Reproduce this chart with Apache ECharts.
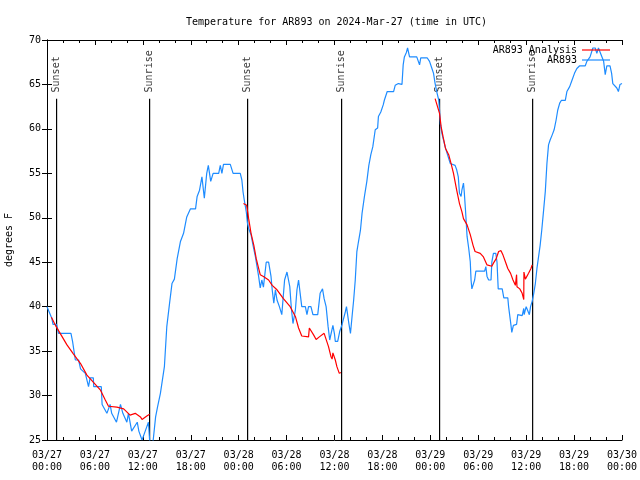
<!DOCTYPE html>
<html><head><meta charset="utf-8">
<script src="https://cdn.jsdelivr.net/npm/echarts@6/dist/echarts.min.js"></script>
<style>html,body{margin:0;padding:0;background:#fff}#c{width:640px;height:480px}</style>
</head><body><div id="c"></div>
<script>
var FONT = '"DejaVu Sans Mono", "Liberation Mono", monospace';
var titleText = 'Temperature for AR893 on 2024-Mar-27 (time in UTC)';
var xTickLabels = ['03/27\n00:00','03/27\n06:00','03/27\n12:00','03/27\n18:00','03/28\n00:00','03/28\n06:00','03/28\n12:00','03/28\n18:00','03/29\n00:00','03/29\n06:00','03/29\n12:00','03/29\n18:00','03/30\n00:00'];
// hours since 03/27 00:00 UTC
var obsHours = [0,0.6,0.75,1.2,1.45,3.0,3.2,3.55,3.96,4.2,4.8,5.2,5.4,5.8,5.85,6.8,6.9,7.5,7.9,8.1,8.7,9.2,9.5,10.0,10.2,10.6,11.3,11.5,11.9,12.3,12.7,12.85,13.0,13.3,13.6,13.85,14.2,14.7,15.0,15.35,15.65,15.95,16.3,16.7,17.1,17.5,17.95,18.6,18.8,19.1,19.4,19.7,20.0,20.2,20.5,20.8,21.5,21.7,21.9,22.1,22.95,23.3,24.2,24.4,24.55,24.7,24.95,25.1,25.25,25.55,25.8,26.1,26.3,26.5,26.7,26.9,27.1,27.45,27.75,28.05,28.2,28.4,28.6,28.8,29.1,29.4,29.75,30.05,30.4,30.6,30.8,31.1,31.3,31.5,31.7,31.9,32.35,32.55,32.75,33.05,33.3,33.9,34.2,34.5,34.7,34.95,35.2,35.4,35.55,35.8,36.0,36.1,36.4,36.65,36.95,37.15,37.35,37.5,37.65,37.8,38.0,38.2,38.4,38.6,38.8,39.0,39.25,39.45,39.75,40.05,40.3,40.55,40.8,41.1,41.4,41.5,41.8,42.1,42.25,42.6,43.4,43.6,44.0,44.45,44.6,44.75,45.0,45.15,45.4,46.3,46.65,46.8,47.6,47.9,48.2,48.4,48.6,48.85,49.05,49.15,49.25,49.45,49.65,49.85,50.15,50.5,51.1,51.3,51.5,51.65,51.85,51.95,52.15,52.25,52.4,52.6,52.8,53.0,53.1,53.2,53.4,53.55,53.7,54.8,54.95,55.1,55.3,55.6,55.7,55.9,56.2,56.35,56.5,57.0,57.2,57.7,57.8,58.0,58.1,58.2,58.4,58.8,58.95,59.5,59.7,59.75,60.0,60.2,60.4,60.55,60.75,60.95,61.15,61.35,61.55,61.75,61.95,62.2,62.4,62.6,62.8,63.0,63.25,63.5,63.75,63.95,64.2,64.4,64.9,65.1,65.45,65.75,66.05,66.35,66.7,67.4,67.6,68.0,68.35,68.65,68.85,69.05,69.25,69.7,69.9,70.1,70.5,70.7,70.85,71.1,71.35,71.55,71.75,72.0];
var obsTemp = [40.0,38.7,38.0,38.0,37.0,37.0,36.1,34.0,34.0,33.0,32.5,31.0,32.0,32.0,31.0,31.0,29.0,28.0,29.0,28.0,27.0,29.0,28.0,27.0,28.0,26.0,27.0,26.0,25.0,26.0,27.0,25.0,24.0,25.0,27.6,28.75,30.25,33.25,37.75,40.4,42.6,43.1,45.4,47.3,48.25,50.1,51.0,51.0,52.4,53.1,54.6,52.2,55.0,55.9,54.1,55.0,55.0,55.9,55.0,56.0,56.0,55.0,55.0,54.25,52.9,52.0,50.7,49.4,48.8,48.1,46.9,45.6,44.5,43.4,42.1,43.0,42.2,45.0,45.0,43.4,41.9,40.4,41.9,40.75,40.0,39.1,43.0,43.9,42.25,39.8,38.1,39.6,41.9,43.0,41.5,40.0,40.0,39.1,40.0,40.0,39.1,39.1,41.5,42.0,40.9,40.0,37.75,36.25,36.1,37.9,36.9,36.1,36.1,37.2,38.0,38.0,39.4,40.0,40.0,38.1,37.0,38.9,40.75,43.0,46.2,47.3,48.6,50.5,52.4,54.1,55.9,57.1,58.0,59.9,60.1,61.4,61.9,62.7,63.25,64.2,64.2,64.9,65.1,65.0,67.2,68.1,68.6,69.1,68.1,68.1,67.2,68.0,68.0,67.6,66.8,66.25,65.1,64.0,63.25,62.1,60.6,59.5,58.75,58.0,57.1,56.1,55.9,55.4,54.6,52.75,52.4,53.1,53.9,52.9,50.9,47.9,46.6,45.05,43.0,42.0,42.0,43.0,44.0,44.0,44.5,43.4,43.0,43.0,45.0,46.0,46.0,45.0,42.0,42.0,41.0,41.0,40.0,40.0,37.9,37.1,37.9,38.0,39.1,39.0,39.8,39.1,40.0,40.0,39.1,40.0,40.6,41.5,42.6,44.3,45.6,46.9,48.6,51.0,53.0,56.1,58.2,58.75,59.3,59.9,61.0,62.1,62.9,63.2,63.2,64.2,64.75,65.5,66.25,66.8,67.1,67.1,67.6,68.1,69.1,69.1,68.5,69.1,69.0,67.6,66.1,67.1,67.1,66.25,65.1,65.1,64.6,64.2,65.0,65.1];
var anaHours = [0.55,1.15,1.65,2.5,3.3,4.2,5.0,5.85,6.7,7.3,7.7,8.75,9.6,10.4,11.05,11.7,11.9,12.5,12.85,13.0,24.6,25.0,25.25,25.55,25.9,26.2,26.5,26.7,27.1,27.75,28.2,28.8,29.6,30.45,31.1,31.5,31.9,32.75,32.85,33.4,33.7,34.1,34.7,34.95,35.25,35.55,35.7,35.8,36.1,36.3,36.6,36.8,37.0,48.6,48.8,49.15,49.35,49.6,49.9,50.3,50.6,50.9,51.3,51.65,51.95,52.15,52.6,53.0,53.35,53.6,53.8,54.25,54.65,54.9,55.1,55.3,55.7,55.9,56.25,56.55,56.85,57.1,57.4,57.7,58.05,58.35,58.65,58.8,58.85,59.2,59.5,59.7,59.72,59.9,60.3,60.6,60.75];
var anaTemp = [38.8,37.75,37.0,35.7,34.7,33.6,32.3,31.45,30.6,29.5,28.8,28.7,28.5,27.8,28.0,27.6,27.3,27.7,27.9,null,51.6,51.4,49.9,48.25,46.9,45.4,44.3,43.6,43.4,43.0,42.4,41.9,40.9,40.0,38.9,37.6,36.7,36.6,37.6,36.8,36.3,36.6,37.0,36.9,35.5,34.4,34.1,34.8,34.0,33.25,32.5,32.6,null,63.4,63.25,61.75,60.25,59.1,57.8,57.1,56.1,55.0,53.1,51.6,50.7,49.9,49.2,48.1,46.9,46.2,46.4,46.0,45.6,45.4,44.7,44.55,44.55,44.9,45.4,46.2,46.3,45.8,45.05,44.3,43.75,43.0,42.4,43.6,42.25,42.0,41.5,40.8,43.9,43.1,43.75,44.3,44.7];
var sunHours = [1.2,12.85,25.12,36.89,49.16,60.81];
var sunNames = ['Sunset','Sunrise','Sunset','Sunrise','Sunset','Sunrise'];
var sunLineTop = 63.4, sunLabelAt = 64.1, yMin = 25, yMax = 70;

function pairs(xs, ys){ return xs.map(function(x,i){ return [x, ys[i]]; }); }
var sunLineData = [];
sunHours.forEach(function(h){ sunLineData.push([h,yMin],[h,sunLineTop],[h,null]); });
var sunLabelData = sunHours.map(function(h,i){ return {value:[h,sunLabelAt], name: sunNames[i]}; });

var LINE_ICON = 'path://M0,0 L280,0 L280,12 L0,12 Z';
var chart = echarts.init(document.getElementById('c'), null, {renderer:'canvas'});
var axisTxt = {fontFamily: FONT, fontSize: 10, color: '#000'};
chart.setOption({
  animation: false,
  backgroundColor: '#fff',
  title: {text: titleText, left: 181, top: 12, textStyle: {fontFamily: FONT, fontSize: 10, fontWeight: 'normal', color: '#000'}},
  grid: {left: 47, right: 18, top: 40, bottom: 40, containLabel: false, outerBoundsMode: 'none'},
  legend: {
    data: [{name: 'AR893 Analysis', icon: LINE_ICON}, {name: 'AR893', icon: LINE_ICON}],
    orient: 'vertical', right: 30, top: 45, align: 'right',
    itemWidth: 28, itemHeight: 12, itemGap: 0, padding: 0, symbolKeepAspect: true,
    textStyle: {fontFamily: FONT, fontSize: 10, color: '#000'}
  },
  xAxis: [{
    type: 'value', min: 0, max: 72, interval: 6,
    axisLine: {show: true, lineStyle: {color: '#000', width: 1}},
    axisTick: {show: true, inside: true, length: 5, lineStyle: {color: '#000'}},
    minorTick: {show: true, splitNumber: 3, length: 3, lineStyle: {color: '#000'}},
    splitLine: {show: false},
    axisLabel: Object.assign({margin: 9, lineHeight: 12, showMinLabel: true, showMaxLabel: true,
      formatter: function(v){ return xTickLabels[Math.round(v/6)]; }}, axisTxt)
  },{
    type: 'value', position: 'top', min: 0, max: 72, interval: 6,
    axisLine: {show: true, lineStyle: {color: '#000', width: 1}},
    axisTick: {show: true, inside: true, length: 5, lineStyle: {color: '#000'}},
    minorTick: {show: true, splitNumber: 3, length: 3, lineStyle: {color: '#000'}},
    splitLine: {show: false}, axisLabel: {show: false}
  }],
  yAxis: [{
    type: 'value', min: yMin, max: yMax, interval: 5,
    name: 'degrees F', nameLocation: 'middle', nameGap: 33,
    nameTextStyle: {fontFamily: FONT, fontSize: 10, color: '#000'},
    axisLine: {show: true, lineStyle: {color: '#000', width: 1}},
    axisTick: {show: true, inside: true, length: 5, lineStyle: {color: '#000'}},
    splitLine: {show: false},
    axisLabel: Object.assign({margin: 6}, axisTxt)
  },{
    type: 'value', position: 'right', min: yMin, max: yMax, interval: 5,
    axisLine: {show: true, lineStyle: {color: '#000', width: 1}},
    axisTick: {show: true, inside: true, length: 5, lineStyle: {color: '#000'}},
    splitLine: {show: false}, axisLabel: {show: false}
  }],
  series: [
    {name: 'sun', type: 'line', data: sunLineData, symbol: 'none', silent: true,
     lineStyle: {color: '#000', width: 1.2}, connectNulls: false, z: 1},
    {name: 'sunLabels', type: 'scatter', data: sunLabelData, symbolSize: 0, silent: true, z: 1,
     label: {show: true, position: 'inside', rotate: 90, align: 'left', verticalAlign: 'middle',
       formatter: function(p){ return p.name; }, fontFamily: FONT, fontSize: 10, color: '#000'}},
    {name: 'AR893', type: 'line', data: pairs(obsHours, obsTemp), symbol: 'none', clip: true,
     lineStyle: {color: '#1e8cff', width: 1.2}, itemStyle: {color: '#1e8cff'}, z: 2},
    {name: 'AR893 Analysis', type: 'line', data: pairs(anaHours, anaTemp), symbol: 'none', clip: true,
     connectNulls: false, lineStyle: {color: '#ff0000', width: 1.2}, itemStyle: {color: '#ff0000'}, z: 3}
  ]
});
</script></body></html>
